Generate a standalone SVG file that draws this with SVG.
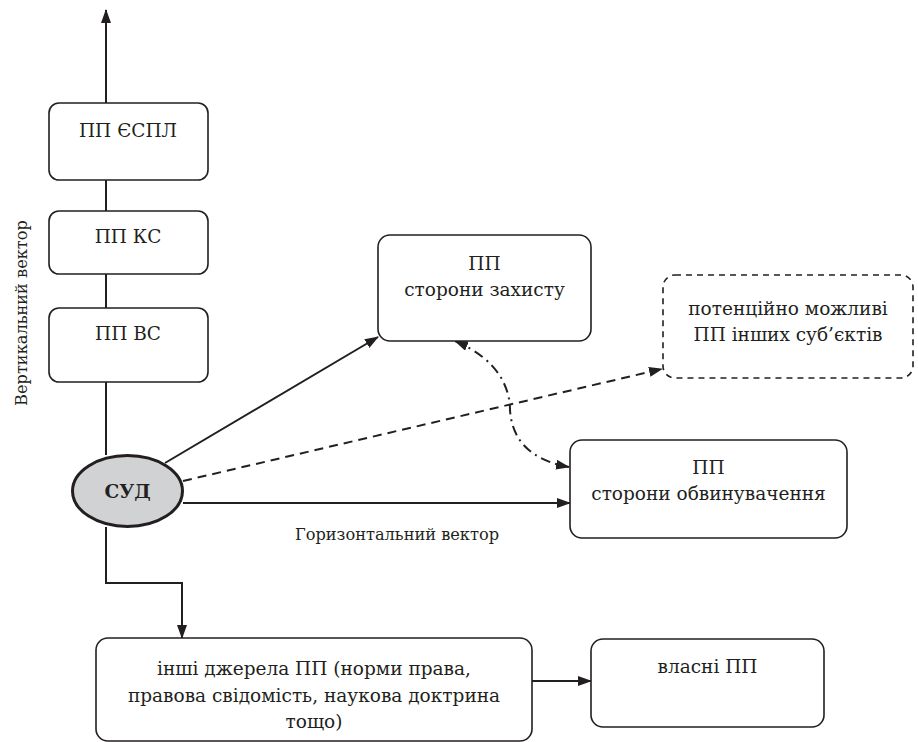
<svg xmlns="http://www.w3.org/2000/svg" width="918" height="742" viewBox="0 0 918 742">
<style>
.box{fill:#fff;stroke:#231f20;stroke-width:1.6}
.dbox{fill:#fff;stroke:#231f20;stroke-width:1.6;stroke-dasharray:6 5}
.ln{fill:none;stroke:#231f20;stroke-width:2}
</style>
<defs>
<marker id="ah" viewBox="0 0 14 10" refX="13" refY="5" markerWidth="14" markerHeight="10" markerUnits="userSpaceOnUse" orient="auto">
<path d="M0,0 L14,5 L0,10 Z" fill="#231f20"/>
</marker>
<marker id="ahs" viewBox="0 0 14 10" refX="1" refY="5" markerWidth="14" markerHeight="10" markerUnits="userSpaceOnUse" orient="auto">
<path d="M14,0 L0,5 L14,10 Z" fill="#231f20"/>
</marker>
</defs>
<g id="connectors">
<line class="ln" x1="106" y1="455" x2="106" y2="10" marker-end="url(#ah)"/>
<line class="ln" x1="165" y1="463" x2="378" y2="337" marker-end="url(#ah)"/>
<line class="ln" x1="183" y1="481" x2="662" y2="369" stroke-dasharray="9 6" marker-end="url(#ah)"/>
<line class="ln" x1="183" y1="503" x2="570" y2="503" marker-end="url(#ah)"/>
<path class="ln" d="M106,527 L106,583 L182,583 L182,638" marker-end="url(#ah)"/>
<line class="ln" x1="532" y1="681" x2="591" y2="681" marker-end="url(#ah)"/>
<path class="ln" d="M455,341 C500,360 510,390 510,410 C512,440 530,460 569,467" stroke-width="1.6" stroke-dasharray="10 5 2 5" marker-start="url(#ahs)" marker-end="url(#ah)"/>
</g>
<g font-family="'DejaVu Serif', serif" font-size="18.5" fill="#231f20" text-anchor="middle">
<g id="espl">
<rect class="box" x="49" y="103" width="159" height="77" rx="10"/>
<text x="128" y="137">ПП ЄСПЛ</text>
</g>
<g id="ks">
<rect class="box" x="49" y="211" width="159" height="63" rx="10"/>
<text x="128" y="243">ПП КС</text>
</g>
<g id="vs">
<rect class="box" x="49" y="308" width="159" height="74" rx="10"/>
<text x="128" y="340">ПП ВС</text>
</g>
<g id="sud">
<ellipse cx="127.5" cy="491" rx="55" ry="35.5" fill="#d1d2d4" stroke="#231f20" stroke-width="3"/>
<text x="127.5" y="498" font-weight="bold">СУД</text>
</g>
<g id="defence">
<rect class="box" x="378" y="235" width="213" height="106" rx="12"/>
<text x="484.5" y="270">ПП</text>
<text x="484.5" y="296">сторони захисту</text>
</g>
<g id="others">
<rect class="dbox" x="663" y="275" width="250" height="103" rx="12"/>
<text x="788" y="315">потенційно можливі</text>
<text x="788" y="341">ПП інших суб’єктів</text>
</g>
<g id="prosecution">
<rect class="box" x="570" y="440" width="277" height="98" rx="12"/>
<text x="708.5" y="474">ПП</text>
<text x="708.5" y="500">сторони обвинувачення</text>
</g>
<g id="sources">
<rect class="box" x="96" y="638" width="436" height="103" rx="12"/>
<text x="314" y="675">інші джерела ПП (норми права,</text>
<text x="314" y="702">правова свідомість, наукова доктрина</text>
<text x="314" y="728">тощо)</text>
</g>
<g id="own">
<rect class="box" x="591" y="639" width="233" height="88" rx="12"/>
<text x="707.5" y="673">власні ПП</text>
</g>
<g id="labels" font-size="16.2">
<text x="397" y="540">Горизонтальний вектор</text>
<text transform="translate(27,313) rotate(-90)">Вертикальний вектор</text>
</g>
</g>
</svg>
